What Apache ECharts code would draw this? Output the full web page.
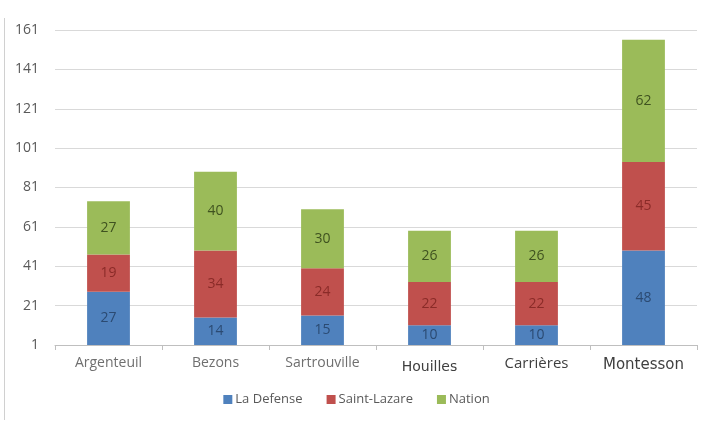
<!DOCTYPE html>
<html>
<head>
<meta charset="utf-8">
<script src="https://cdn.jsdelivr.net/npm/echarts@6/dist/echarts.min.js"></script>
<style>
  html, body { margin: 0; padding: 0; background: #fff; }
  #chart { width: 713px; height: 425px; }
</style>
</head>
<body>
<div id="chart"></div>
<script>
  // data
  var towns = ['Argenteuil', 'Bezons', 'Sartrouville', 'Houilles', 'Carrières', 'Montesson'];
  var laDefense = [27, 14, 15, 10, 10, 48];
  var saintLazare = [19, 34, 24, 22, 22, 45];
  var nation = [27, 40, 30, 26, 26, 62];
  var yTicks = { min: 1, max: 161, step: 20 };
  // bars grow from the axis floor (1), like the original spreadsheet
  var floor = towns.map(function () { return yTicks.min; });

  var font = '"Open Sans", "Liberation Sans", sans-serif';

  // the last three town names were typed in another font in the original
  var townStyles = {
    'Houilles': { fontFamily: '"DejaVu Sans", sans-serif', fontSize: 14, color: '#3f3f3f', padding: [4, 0, 0, 0] },
    'Carrières': { fontFamily: font, fontSize: 15, color: '#3f3f3f', padding: [0, 0, 2, 0] },
    'Montesson': { fontFamily: '"DejaVu Sans", sans-serif', fontSize: 15, color: '#3f3f3f', padding: [2, 0, 0, 0] }
  };

  function barLabel(color) {
    return {
      show: true,
      position: 'inside',
      color: color,
      fontSize: 14,
      fontFamily: font
    };
  }

  var chart = echarts.init(document.getElementById('chart'));

  chart.setOption({
    animation: false,
    grid: { left: 55, right: 16, top: 30, bottom: 80 },
    legend: {
      data: ['La Defense', 'Saint-Lazare', 'Nation'],
      bottom: 14,
      left: 'center',
      itemWidth: 9,
      itemHeight: 9,
      itemGap: 24,
      icon: 'rect',
      textStyle: { color: '#595959', fontSize: 13, fontFamily: font, padding: [0, 0, 0, -2] }
    },
    xAxis: {
      type: 'category',
      data: towns.map(function (t) {
        return townStyles[t] ? { value: t, textStyle: townStyles[t] } : t;
      }),
      axisLine: { lineStyle: { color: '#bfbfbf' } },
      axisTick: { show: true, length: 5, lineStyle: { color: '#bfbfbf' } },
      axisLabel: { color: '#6f6f6f', fontSize: 14, fontFamily: font, margin: 11 }
    },
    yAxis: {
      type: 'value',
      min: yTicks.min,
      max: yTicks.max,
      interval: yTicks.step,
      axisLine: { show: false },
      axisTick: { show: false },
      axisLabel: { color: '#595959', fontSize: 14, fontFamily: font, margin: 16 },
      splitLine: { lineStyle: { color: '#d9d9d9' } }
    },
    series: [
      {
        name: 'floor',
        type: 'bar',
        stack: 'total',
        silent: true,
        data: floor,
        itemStyle: { color: 'rgba(0,0,0,0)' },
        barWidth: '40%'
      },
      {
        name: 'La Defense',
        type: 'bar',
        stack: 'total',
        data: laDefense,
        itemStyle: { color: '#4f81bd' },
        label: barLabel('#2b4a72'),
        barWidth: '40%'
      },
      {
        name: 'Saint-Lazare',
        type: 'bar',
        stack: 'total',
        data: saintLazare,
        itemStyle: { color: '#c0504d' },
        label: barLabel('#8a2b28'),
        barWidth: '40%'
      },
      {
        name: 'Nation',
        type: 'bar',
        stack: 'total',
        data: nation,
        itemStyle: { color: '#9bbb59' },
        label: barLabel('#3f5220'),
        barWidth: '40%'
      }
    ],
    graphic: [{
      type: 'line',
      shape: { x1: 4.5, y1: 18, x2: 4.5, y2: 420 },
      style: { stroke: '#d0d0d0', lineWidth: 1 },
      silent: true
    }]
  });
</script>
</body>
</html>
